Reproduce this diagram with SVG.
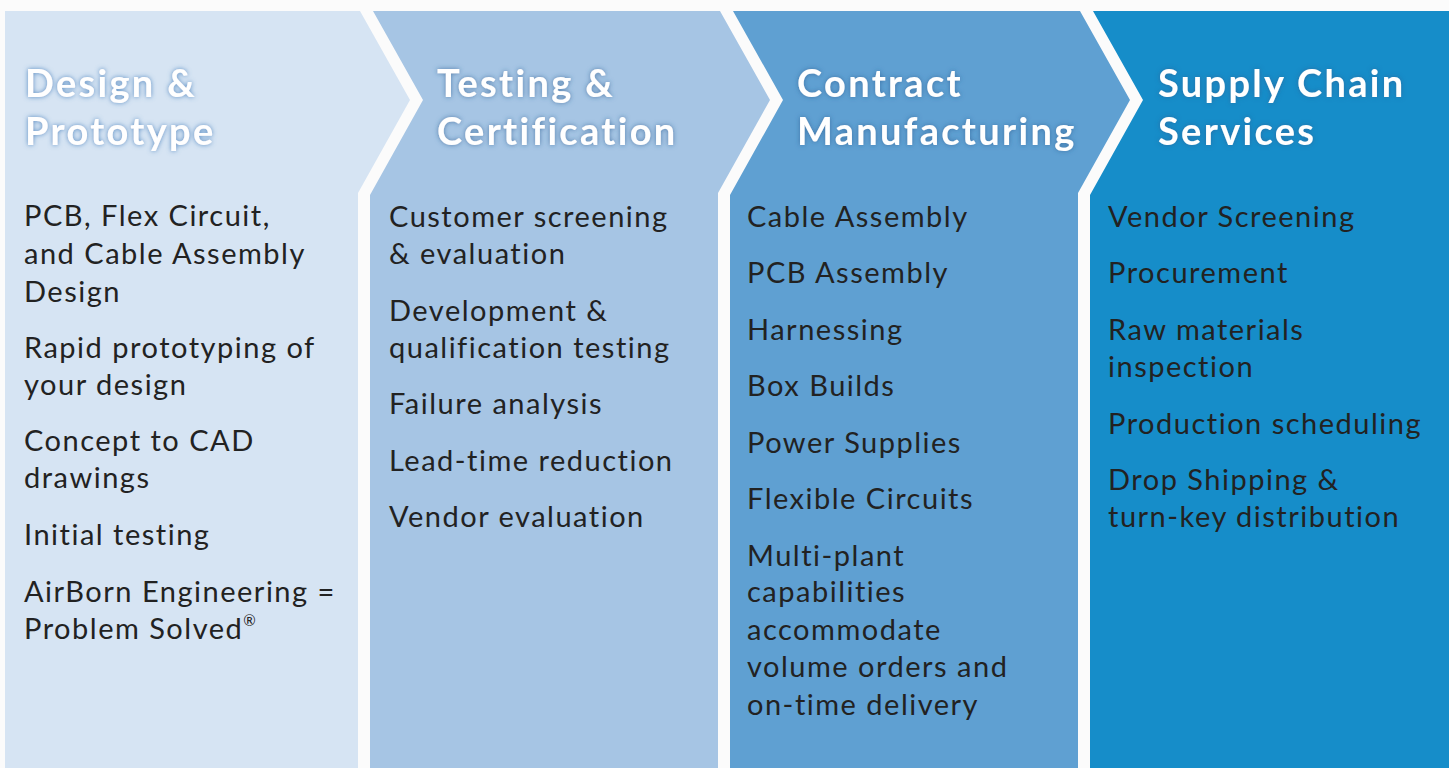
<svg xmlns="http://www.w3.org/2000/svg" width="1449" height="768" viewBox="0 0 1449 768">
  <defs>
    <filter id="glow1" x="-10%" y="-30%" width="120%" height="160%">
      <feGaussianBlur in="SourceAlpha" stdDeviation="2.5" result="b"/>
      <feFlood flood-color="#4f86bf" flood-opacity="0.95"/>
      <feComposite in2="b" operator="in" result="s"/>
      <feMerge><feMergeNode in="s"/><feMergeNode in="SourceGraphic"/></feMerge>
    </filter>
    <filter id="glow2" x="-10%" y="-30%" width="120%" height="160%">
      <feGaussianBlur in="SourceAlpha" stdDeviation="2.5" result="b"/>
      <feFlood flood-color="#2d5f93" flood-opacity="0.7"/>
      <feComposite in2="b" operator="in" result="s"/>
      <feMerge><feMergeNode in="s"/><feMergeNode in="SourceGraphic"/></feMerge>
    </filter>
  </defs>
  <style>
    .hd { font-family: Lato, "Noto Sans", sans-serif; font-weight: 700; font-size: 38px; letter-spacing: 2.3px; fill: #ffffff; }
    .tx { font-family: Lato, "Noto Sans", sans-serif; font-weight: 400; font-size: 29px; letter-spacing: 1.5px; fill: #222222; }
    .sup { font-size: 15px; letter-spacing: 0; }
  </style>
  <rect x="0" y="0" width="1449" height="768" fill="#fbfbfb"/>

  <g id="design-prototype">
    <polygon points="5,11 360,11 410,100 358,193 358,768 5,768" fill="#d6e4f3"/>
    <text class="hd" filter="url(#glow1)"><tspan x="25" y="97">Design &amp;</tspan><tspan x="25" y="145">Prototype</tspan></text>
    <text class="tx">
      <tspan x="24" y="226">PCB, Flex Circuit,</tspan>
      <tspan x="24" y="264">and Cable Assembly</tspan>
      <tspan x="24" y="302">Design</tspan>
      <tspan x="24" y="358">Rapid prototyping of</tspan>
      <tspan x="24" y="395">your design</tspan>
      <tspan x="24" y="451">Concept to CAD</tspan>
      <tspan x="24" y="488">drawings</tspan>
      <tspan x="24" y="545">Initial testing</tspan>
      <tspan x="24" y="602">AirBorn Engineering =</tspan>
      <tspan x="24" y="639">Problem Solved<tspan class="sup" dy="-13">®</tspan></tspan>
    </text>
  </g>

  <g id="testing-certification">
    <polygon points="373,11 720,11 770,100 718,193 718,768 370,768 370,195 423,100" fill="#a6c5e4"/>
    <text class="hd" filter="url(#glow2)"><tspan x="437" y="97">Testing &amp;</tspan><tspan x="437" y="145">Certification</tspan></text>
    <text class="tx">
      <tspan x="389" y="227">Customer screening</tspan>
      <tspan x="389" y="264">&amp; evaluation</tspan>
      <tspan x="389" y="321">Development &amp;</tspan>
      <tspan x="389" y="358">qualification testing</tspan>
      <tspan x="389" y="414">Failure analysis</tspan>
      <tspan x="389" y="471">Lead-time reduction</tspan>
      <tspan x="389" y="527">Vendor evaluation</tspan>
    </text>
  </g>

  <g id="contract-manufacturing">
    <polygon points="733,11 1080,11 1130,100 1078,193 1078,768 730,768 730,195 783,100" fill="#5fa0d2"/>
    <text class="hd" filter="url(#glow2)"><tspan x="797" y="97">Contract</tspan><tspan x="797" y="145">Manufacturing</tspan></text>
    <text class="tx">
      <tspan x="747" y="227">Cable Assembly</tspan>
      <tspan x="747" y="283">PCB Assembly</tspan>
      <tspan x="747" y="340">Harnessing</tspan>
      <tspan x="747" y="396">Box Builds</tspan>
      <tspan x="747" y="453">Power Supplies</tspan>
      <tspan x="747" y="509">Flexible Circuits</tspan>
      <tspan x="747" y="566">Multi-plant</tspan>
      <tspan x="747" y="602">capabilities</tspan>
      <tspan x="747" y="640">accommodate</tspan>
      <tspan x="747" y="677">volume orders and</tspan>
      <tspan x="747" y="715">on-time delivery</tspan>
    </text>
  </g>

  <g id="supply-chain-services">
    <polygon points="1093,11 1449,11 1449,768 1090,768 1090,195 1143,100" fill="#168dc9"/>
    <text class="hd" filter="url(#glow2)"><tspan x="1158" y="97">Supply Chain</tspan><tspan x="1158" y="145">Services</tspan></text>
    <text class="tx">
      <tspan x="1108" y="227">Vendor Screening</tspan>
      <tspan x="1108" y="283">Procurement</tspan>
      <tspan x="1108" y="340">Raw materials</tspan>
      <tspan x="1108" y="377">inspection</tspan>
      <tspan x="1108" y="434">Production scheduling</tspan>
      <tspan x="1108" y="490">Drop Shipping &amp;</tspan>
      <tspan x="1108" y="527">turn-key distribution</tspan>
    </text>
  </g>

  <g id="connectors"/>
</svg>
